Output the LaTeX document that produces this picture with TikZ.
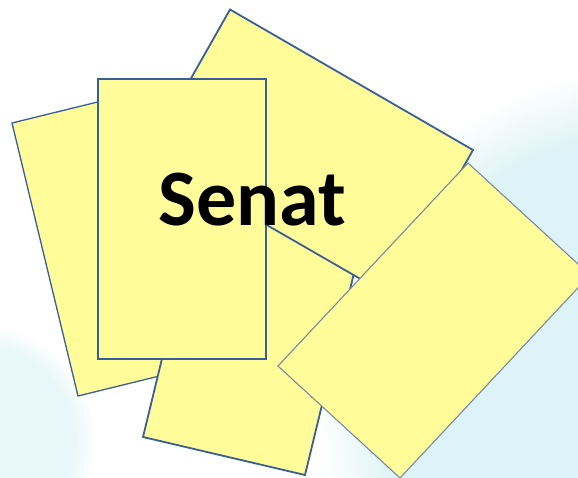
\documentclass[tikz,border=0pt]{standalone}
\usepackage{fontspec}
\usetikzlibrary{fadings}
\newfontfamily\carlito{Carlito}
\definecolor{cardfill}{RGB}{255,252,153}
\definecolor{cardedge}{RGB}{58,94,150}
\definecolor{softedge}{RGB}{120,138,165}
\definecolor{bgc}{RGB}{222,243,247}
\definecolor{bgc2}{RGB}{232,247,249}
\tikzset{
  card/.style={fill=cardfill, draw=cardedge, line width=1.3pt, line join=miter},
  cardthick/.style={card, line width=1.8pt},
  cardsoft/.style={fill=cardfill, draw=softedge, line width=1.1pt},
  glow/.style={fill=bgc, path fading=circle with fuzzy edge 20 percent},
  glowsoft/.style={fill=bgc2, path fading=circle with fuzzy edge 20 percent},
}
\begin{document}
\begin{tikzpicture}[x=1pt,y=-1pt]
\useasboundingbox (0,0) rectangle (578,477);
\begin{scope}
\clip (0,0) rectangle (578,477);
\fill[white] (0,0) rectangle (578,477);
\fill[glow] (650,400) circle (330);
\fill[glowsoft] (-20,440) circle (115);
\end{scope}
% left card
\draw[card] (12,123) -- (175,83) -- (241,356) -- (78,396) -- cycle;
% bottom card
\draw[cardthick] (209,165) -- (371,203) -- (305,475) -- (143,437) -- cycle;
% top card
\draw[cardthick] (230,9.5) -- (473,150) -- (390,296) -- (147,156) -- cycle;
% right card
\draw[cardsoft] (468,163) -- (590,275) -- (400,478) -- (278,366) -- cycle;
% front card
\draw[card] (98,79) rectangle (266,359);
% title
\node[font=\carlito\bfseries\fontsize{80}{96}\selectfont, anchor=base, inner sep=0pt] (title) at (252.5,225) {Senat};
\end{tikzpicture}
\end{document}
